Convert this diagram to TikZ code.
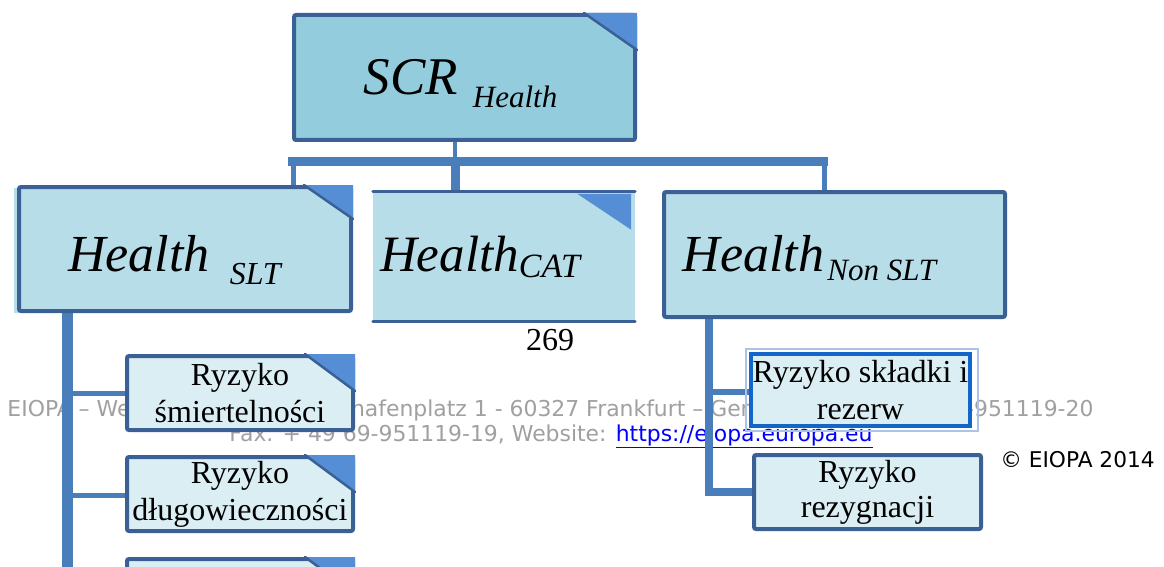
\documentclass[tikz,border=0pt]{standalone}
\usepackage{fontspec}
\setmainfont{Liberation Serif}
\newfontfamily\footfont{DejaVu Sans}
\usetikzlibrary{calc}
\definecolor{bdark}{HTML}{3B6095}
\definecolor{fillA}{HTML}{93CDDD}
\definecolor{fillB}{HTML}{B7DDE8}
\definecolor{fillC}{HTML}{DAEEF3}
\definecolor{tri}{HTML}{558ED5}
\definecolor{conn}{HTML}{4A7EBB}
\definecolor{footgray}{HTML}{A0A0A0}
\definecolor{brightblue}{HTML}{1366C8}
\definecolor{paleframe}{HTML}{A8C4E8}
\definecolor{linkblue}{HTML}{0000FF}
\newcommand\foldcorner[4]{% node, dx, dy, inset
  \fill[tri] ($(#1.north east)+(-#2-#4,#4)$) -- ($(#1.north east)+(-#4,#4)$) -- ($(#1.north east)+(-#4,#3+#4)$) -- cycle;}
\newcommand\foldline[3]{%
  \draw[bdark, line width=2.5pt, line cap=round] ($(#1.north east)+(-#2,0)$) -- ($(#1.north east)+(0,#3)$);}
\tikzset{
  bigbox/.style={draw=bdark, line width=4pt, rounded corners=2pt, inner sep=0pt},
  smallbox/.style={draw=bdark, line width=4pt, rounded corners=2pt, fill=fillC, inner sep=0pt,
    align=center, font=\fontsize{32}{37}\selectfont},
  connline/.style={draw=conn},
  foot/.style={text=footgray, font=\footfont\fontsize{21.9}{25}\selectfont, inner sep=0pt, anchor=base}
}
\begin{document}
\begin{tikzpicture}[x=1pt,y=-1pt]
\useasboundingbox (0,0) rectangle (1164,567);
\clip (0,0) rectangle (1164,567);
\fill[white] (0,0) rectangle (1164,567);

% footer (behind)
\node[foot] (addr1) at (550.5,416) {EIOPA – Westhafen Tower, Westhafenplatz 1 - 60327 Frankfurt – Germany - Tel. + 49 69-951119-20};
\node[foot] (addr2) at (551,441) {Fax. + 49 69-951119-19, Website: \textcolor{linkblue}{\underline{https://eiopa.europa.eu}}};
\node[inner sep=0pt, anchor=base, font=\footfont\fontsize{21.7}{25}\selectfont] (copy) at (1077.5,467) {© EIOPA 2014};
\node[inner sep=0pt, anchor=base, font=\fontsize{32}{36}\selectfont] (page) at (550,350) {269};

% connector coordinates
\coordinate (bar) at (455,161.5);
\coordinate (barL) at (288,161.5);
\coordinate (barR) at (828,161.5);
\coordinate (dropL) at (293,161.5);
\coordinate (dropM) at (455.5,161.5);
\coordinate (dropR) at (824.5,161.5);

\node[bigbox, fill=fillA, minimum width=341pt, minimum height=125pt, text height=45pt, text depth=10pt] (scr) at (464.5,77.5)
  {\itshape\fontsize{53}{60}\selectfont SCR\kern15pt\raisebox{-13pt}{\fontsize{31}{36}\selectfont Health}\kern8pt\relax};

% connectors
\draw[connline, line width=4pt] (scr.south -| bar) -- (bar);
\draw[connline, line width=9pt] (barL) -- (barR);
\draw[connline, line width=5pt] (dropL) -- (293,190);
\draw[connline, line width=9pt] (dropM) -- (455.5,193);
\draw[connline, line width=5pt] (dropR) -- (824.5,193);
\draw[connline, line width=11pt] (67.5,313) -- (67.5,600);
\draw[connline, line width=5pt] (67.5,393) -- (140,393);
\draw[connline, line width=5pt] (67.5,495) -- (140,495);
\draw[connline, line width=8pt, line join=miter] (709,318) -- (709,492) -- (765,492);
\draw[connline, line width=6pt] (709,392) -- (760,392);

% level 1
\fill[fillB] (14,188) rectangle (22,313);
\node[bigbox, fill=fillB, minimum width=332pt, minimum height=124pt, text height=50pt, text depth=6pt] (slt) at (185,249)
  {\itshape\fontsize{52}{60}\selectfont Health\kern20pt\raisebox{-13pt}{\fontsize{32}{36}\selectfont SLT}\kern21pt\relax};
\node[fill=fillB, inner sep=0pt, minimum width=262pt, minimum height=133pt, text height=40pt, text depth=11pt] (cat) at (504,256.5)
  {\itshape\fontsize{51}{60}\selectfont Health\raisebox{-6pt}{\fontsize{34}{36}\selectfont CAT}\kern48pt\relax};
\draw[bdark, line width=3pt, line cap=round] ($(cat.north west)+(0,1.5)$) -- ($(cat.north east)+(0,1.5)$);
\draw[bdark, line width=3pt, line cap=round] ($(cat.south west)+(0,-1.5)$) -- ($(cat.south east)+(0,-1.5)$);
\node[bigbox, fill=fillB, minimum width=341pt, minimum height=125pt, text height=42pt, text depth=9pt] (nonslt) at (834.5,254.5)
  {\itshape\fontsize{52}{60}\selectfont Health\kern3pt\raisebox{-9pt}{\fontsize{31}{36}\selectfont Non SLT}\kern50pt\relax};

% level 2 left
\node[smallbox, minimum width=226pt, minimum height=74pt] (smi) at (240,393) {Ryzyko\\śmiertelności};
\node[smallbox, minimum width=226pt, minimum height=74pt] (dlu) at (240,494) {Ryzyko\\długowieczności};
\node[smallbox, minimum width=226pt, minimum height=74pt] (third) at (240,596) {};

% level 2 right
\draw[paleframe, line width=1.5pt] (746,349) rectangle (978,431);
\node[smallbox, draw=brightblue, rounded corners=0pt, minimum width=219pt, minimum height=72pt] (skl) at (860.5,390) {Ryzyko składki i\\rezerw};
\node[smallbox, minimum width=227pt, minimum height=74pt] (rez) at (867.5,492) {Ryzyko\\[-2pt]rezygnacji};

% folded corners
\foldcorner{scr}{53}{37}{0}
\foldline{scr}{53}{37}
\foldcorner{slt}{49}{34}{0}
\foldline{slt}{49}{34}
\foldcorner{cat}{54}{36}{4}
\foldcorner{smi}{50}{37}{0}
\foldline{smi}{50}{37}
\foldcorner{dlu}{50}{37}{0}
\foldline{dlu}{50}{37}
\foldcorner{third}{50}{37}{0}
\foldline{third}{50}{37}
\end{tikzpicture}
\end{document}
